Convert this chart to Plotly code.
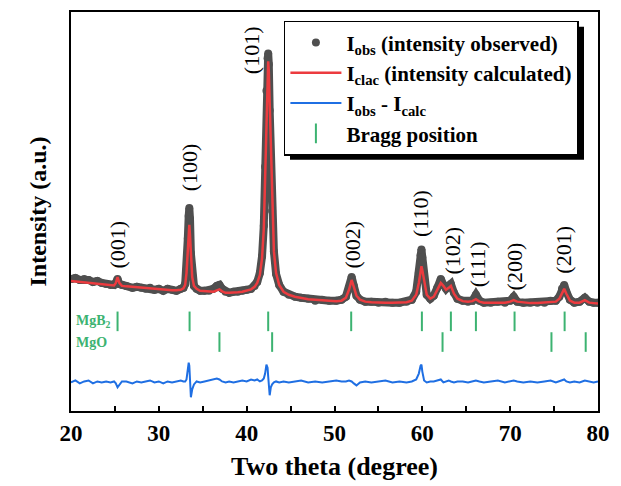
import plotly.graph_objects as go

# ---- data (intensity in arbitrary units) ----
two_theta = [20.0, 20.5, 21.0, 21.5, 22.0, 22.5, 23.0, 23.5, 24.0, 24.5, 24.9, 25.1, 25.3, 25.5, 25.8,
             26.3, 27.0, 27.5, 28.0, 28.5, 29.0, 29.5, 30.0, 30.5, 31.0, 31.5, 32.0, 32.5, 32.8, 33.0,
             33.15, 33.3, 33.4, 33.47, 33.55, 33.65, 33.8, 34.0, 34.3, 34.7, 35.2, 35.7, 36.2, 36.6, 36.9,
             37.2, 37.6, 38.0, 38.5, 39.0, 39.5, 40.0, 40.5, 40.9, 41.2, 41.5, 41.75, 41.95, 42.1, 42.25,
             42.38, 42.45, 42.52, 42.62, 42.75, 42.9, 43.1, 43.35, 43.7, 44.2, 44.8, 45.5, 46.2, 47.0, 47.8,
             48.6, 49.4, 50.2, 50.8, 51.3, 51.65, 51.95, 52.2, 52.5, 52.9, 53.5, 54.2, 55.0, 55.8, 56.6,
             57.4, 58.2, 58.8, 59.3, 59.6, 59.8, 59.9, 60.0, 60.2, 60.5, 60.9, 61.3, 61.7, 62.1, 62.4,
             62.7, 63.0, 63.25, 63.6, 64.0, 64.6, 65.2, 65.7, 66.1, 66.5, 67.0, 67.8, 68.6, 69.4, 70.0,
             70.4, 70.8, 71.5, 72.3, 73.1, 73.9, 74.6, 75.2, 75.6, 75.9, 76.15, 76.4, 76.8, 77.3, 77.9,
             78.5, 79.0, 79.5, 80.0]

i_calc = [132, 131.5, 131, 130.5, 130, 129.5, 129, 128.5, 128, 127.5, 127.5, 130, 136, 130, 127,
          126.5, 126, 125.5, 125, 124.5, 124, 123.5, 123.5, 123, 123, 122.5, 122.5, 123, 124.5, 128,
          140, 165, 182, 189, 178, 158, 136, 127, 124, 122, 121.5, 121, 121, 122.5, 123.5,
          121.5, 120, 120, 120, 120.5, 121, 122, 123.5, 126, 130, 138, 155, 185, 240, 310,
          350, 355, 345, 310, 255, 205, 162, 140, 128, 121, 118, 116, 114.5, 113.5, 113,
          112.5, 112, 111.5, 112, 115, 123, 133, 126, 117, 113, 111, 110.5, 110, 110, 110,
          110, 110.5, 112, 118, 130, 143, 147, 143, 132, 118, 114, 116, 123, 130, 127,
          123, 125, 127, 119, 114, 111.5, 111, 111.5, 113.5, 111, 110, 110, 110, 110, 111,
          112.5, 111, 110, 109.5, 109.5, 110, 111, 111, 114, 120, 124, 119, 112, 110, 110,
          112.5, 110, 109.5, 109]

i_obs = [134, 135, 133, 134, 133, 131, 132, 130, 129, 128, 128, 130, 134, 129, 128,
         127, 125, 126, 125, 124, 125, 123, 124, 122, 124, 123, 122, 124, 125, 129,
         143, 175, 198, 206, 195, 160, 137, 127, 124, 122, 122, 122, 124, 127, 128,
         124, 121, 120, 121, 121, 122, 123, 124, 127, 131, 140, 157, 188, 248, 325,
         358, 363, 352, 305, 252, 203, 162, 139, 128, 121, 118, 116, 115, 114, 112,
         113, 112, 112, 113, 116, 125, 136, 127, 117, 113, 111, 111, 110, 111, 110,
         110, 111, 113, 121, 140, 158, 164, 156, 135, 118, 114, 117, 125, 134, 128,
         124, 127, 129, 120, 114, 112, 111, 112, 118, 112, 110, 110, 111, 110, 112,
         116, 111, 110, 110, 110, 110, 112, 112, 116, 124, 128, 121, 113, 110, 111,
         115, 111, 110, 110]

i_diff = [29, 31, 28, 30, 31, 28, 30, 29, 30, 29, 30, 28, 24, 27, 30,
          30, 28, 30, 29, 30, 31, 29, 30, 28, 30, 29, 30, 31, 30, 30,
          32, 40, 49, 46, 25, 14, 22, 27, 30, 29, 30, 31, 32, 33, 32,
          30, 29, 30, 29, 30, 31, 30, 32, 31, 32, 30, 31, 33, 38, 47,
          44, 35, 20, 16, 24, 27, 29, 30, 29, 30, 29, 30, 31, 29, 30,
          29, 30, 31, 30, 30, 31, 30, 28, 26, 29, 30, 29, 30, 31, 29,
          30, 29, 30, 32, 38, 46, 47, 40, 31, 29, 30, 30, 31, 32, 29,
          30, 31, 30, 29, 30, 30, 29, 30, 31, 30, 29, 30, 31, 29, 30,
          31, 30, 29, 30, 29, 30, 31, 29, 30, 31, 32, 30, 29, 30, 29,
          31, 30, 29, 30]

bragg_mgb2 = [25.3, 33.5, 42.45, 51.9, 59.95, 63.25, 66.1, 70.5, 76.2]
bragg_mgo = [36.9, 42.9, 62.3, 74.7, 78.6]
bragg_mgb2_level = 91
bragg_mgo_level = 70

hkl_labels = ["(001)", "(100)", "(101)", "(002)", "(110)", "(102)", "(111)", "(200)", "(201)"]
hkl_x = [25.35, 33.5, 40.58, 52.0, 59.86, 63.39, 66.24, 70.46, 76.04]
hkl_y = [169, 247, 366, 169, 200, 163, 149, 147, 164]

SERIF = "Times New Roman, Liberation Serif, DejaVu Serif, serif"
GRAY = "#4f4f4f"
RED = "#ec3b3f"
BLUE = "#1f6fe3"
GREEN = "#3cb371"

fig = go.Figure()

# observed band (thick) + dots for legend
fig.add_trace(go.Scatter(x=two_theta, y=i_obs, mode="lines",
                         line=dict(color=GRAY, width=8), showlegend=False, hoverinfo="skip"))
fig.add_trace(go.Scatter(x=two_theta, y=i_obs, mode="markers",
                         marker=dict(color=GRAY, size=8),
                         name="<b>I<sub>obs</sub> (intensity observed)</b>"))
fig.add_trace(go.Scatter(x=two_theta, y=i_calc, mode="lines",
                         line=dict(color=RED, width=2.5),
                         name="<b>I<sub>clac</sub> (intensity calculated)</b>"))
fig.add_trace(go.Scatter(x=two_theta, y=i_diff, mode="lines",
                         line=dict(color=BLUE, width=2),
                         name="<b>I<sub>obs</sub> - I<sub>calc</sub></b>"))
fig.add_trace(go.Scatter(x=bragg_mgb2, y=[bragg_mgb2_level] * len(bragg_mgb2), mode="markers",
                         marker=dict(symbol="line-ns", size=14, line=dict(color=GREEN, width=2)),
                         name="<b>Bragg position</b>"))
fig.add_trace(go.Scatter(x=bragg_mgo, y=[bragg_mgo_level] * len(bragg_mgo), mode="markers",
                         marker=dict(symbol="line-ns", size=14, line=dict(color=GREEN, width=2)),
                         showlegend=False))

annotations = []
for t, x, y in zip(hkl_labels, hkl_x, hkl_y):
    annotations.append(dict(x=x, y=y, xref="x", yref="y", text=t, showarrow=False,
                            textangle=-90, xanchor="center", yanchor="middle",
                            font=dict(family=SERIF, size=22, color="black")))
annotations.append(dict(x=20.35, y=bragg_mgb2_level, xref="x", yref="y", text="<b>MgB<sub>2</sub></b>",
                        showarrow=False, xanchor="left", yanchor="middle",
                        font=dict(family=SERIF, size=14, color=GREEN)))
annotations.append(dict(x=20.35, y=bragg_mgo_level, xref="x", yref="y", text="<b>MgO</b>",
                        showarrow=False, xanchor="left", yanchor="middle",
                        font=dict(family=SERIF, size=14, color=GREEN)))

fig.update_layout(
    width=621, height=486,
    margin=dict(l=71, r=23, t=10, b=71),
    paper_bgcolor="white", plot_bgcolor="white",
    font=dict(family=SERIF, color="black"),
    annotations=annotations,
    legend=dict(x=0.404, y=0.978, xanchor="left", yanchor="top",
                bgcolor="white", bordercolor="black", borderwidth=1.5,
                font=dict(family=SERIF, size=21, color="black"),
                tracegroupgap=0, itemwidth=51),
    shapes=[dict(type="rect", xref="paper", yref="paper",
                 x0=(290 - 71) / 527, x1=(584 - 71) / 527,
                 y0=(415 - 160) / 405, y1=(415 - 25) / 405,
                 fillcolor="black", line=dict(width=0), layer="above")],
    xaxis=dict(range=[20, 80], dtick=10, tick0=20, ticks="inside", ticklen=5, tickwidth=2,
               tickcolor="black",
               minor=dict(dtick=5, ticks="inside", ticklen=5, tickwidth=2, tickcolor="black"),
               showline=True, linewidth=2, linecolor="black", mirror=True, showgrid=False,
               zeroline=False,
               tickfont=dict(family=SERIF, size=23, color="black", weight="bold"),
               title=dict(text="<b>Two theta (degree)</b>", font=dict(family=SERIF, size=26),
                          standoff=12)),
    yaxis=dict(range=[0, 405], showticklabels=False, ticks="", showline=True, linewidth=2,
               linecolor="black", mirror=True, showgrid=False, zeroline=False,
               title=dict(text="<b>Intensity (a.u.)</b>", font=dict(family=SERIF, size=24),
                          standoff=16)),
)

fig.write_html("out.html")
